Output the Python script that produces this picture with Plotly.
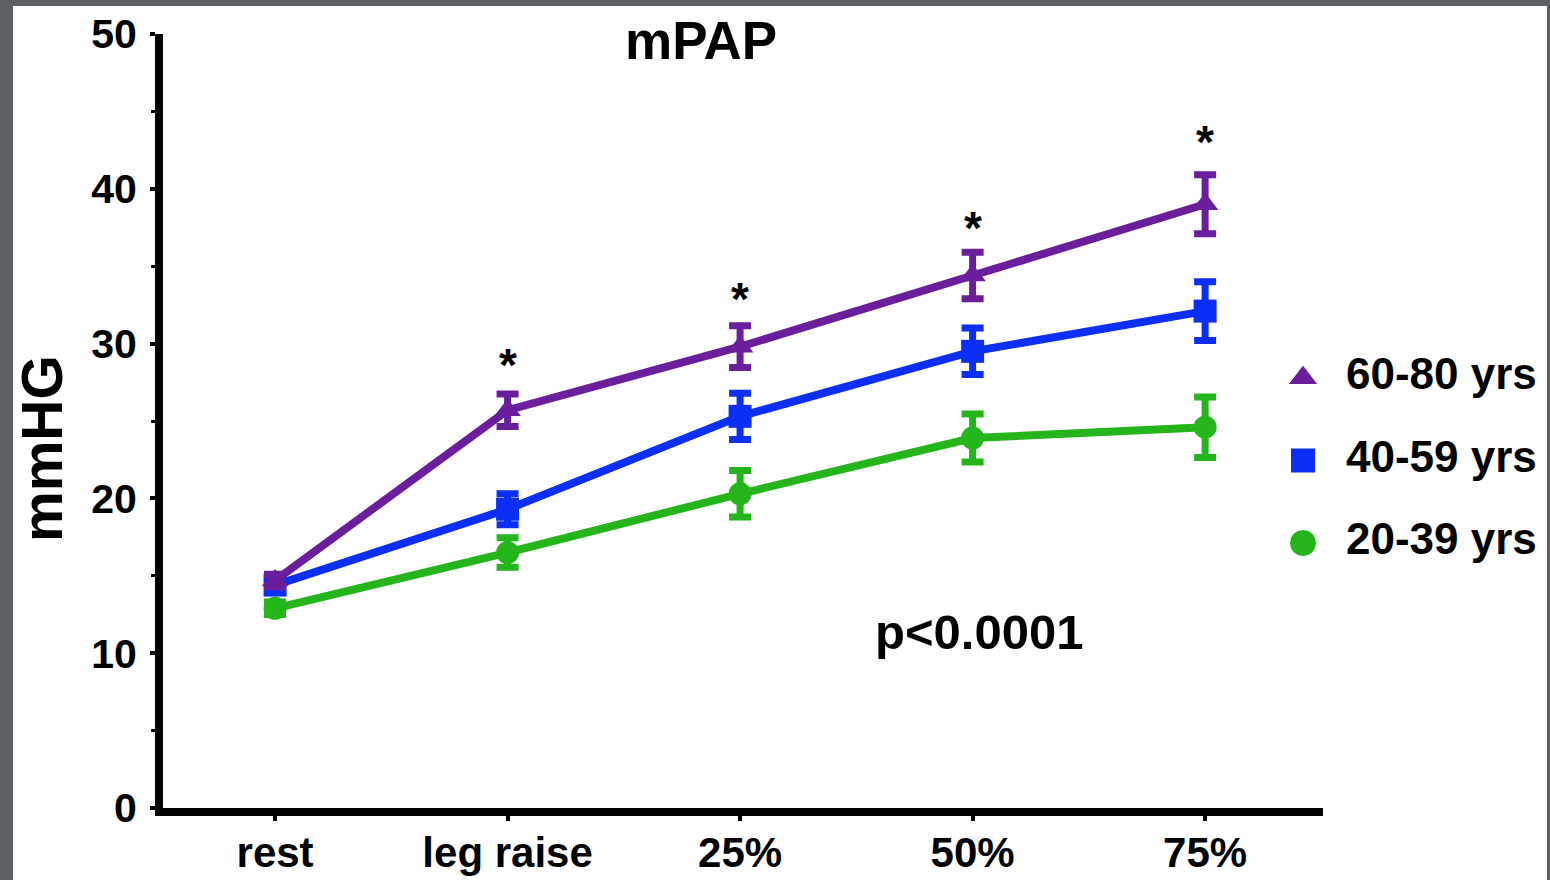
import plotly.graph_objects as go

# ---- data ----
categories = ["rest", "leg raise", "25%", "50%", "75%"]
series_names = ["60-80 yrs", "40-59 yrs", "20-39 yrs"]
old_mean = [14.7, 25.7, 29.8, 34.4, 39.0]
old_err = [0.4, 1.05, 1.35, 1.5, 1.9]
mid_mean = [14.4, 19.3, 25.3, 29.5, 32.1]
mid_err = [0.4, 1.0, 1.5, 1.5, 1.9]
young_mean = [12.9, 16.5, 20.3, 23.9, 24.6]
young_err = [0.4, 0.95, 1.5, 1.55, 1.95]
star_categories = ["leg raise", "25%", "50%", "75%"]
star_y = [28.6, 32.9, 37.5, 43.0]
y_ticks = [0, 10, 20, 30, 40, 50]

purple = "#6a1e9c"
blue = "#0b2ff5"
green = "#24b51b"
FONT = "Liberation Sans, Arial, sans-serif"

# ---- layout geometry (pixels) ----
W, H = 1550, 880
ML, MT, MB, MR = 163, 34, 72, 0
PW = W - ML - MR          # paper width
PH = H - MT - MB          # paper height
PLOT_RIGHT = 1323         # right end of the x axis


def px(xp):
    return (xp - ML) / PW


def py(yp):
    return (H - MB - yp) / PH


fig = go.Figure()

specs = [
    (series_names[0], old_mean, old_err, purple, "triangle-up", 26),
    (series_names[1], mid_mean, mid_err, blue, "square", 25),
    (series_names[2], young_mean, young_err, green, "circle", 27),
]

for name, m, e, col, sym, _ in specs[::-1]:
    fig.add_trace(go.Scatter(
        x=categories, y=m, mode="lines+markers", name=name, showlegend=False,
        line=dict(color=col, width=8),
        marker=dict(color=col, size=23, symbol=sym),
        error_y=dict(type="data", array=e, color=col, thickness=7, width=11),
        xaxis="x", yaxis="y",
    ))

# legend drawn on its own hidden pixel-scaled axes
LEG_MARKER_X, LEG_TEXT_X, LEG_TOP, LEG_STEP = 1303, 1346, 378, 82.5
leg_rows = [LEG_TOP + i * LEG_STEP for i in range(len(specs))]
fig.add_trace(go.Scatter(
    x=[LEG_MARKER_X] * len(specs), y=leg_rows, mode="markers", showlegend=False,
    marker=dict(color=[s[3] for s in specs], symbol=[s[4] for s in specs],
                size=[s[5] for s in specs], opacity=1),
    xaxis="x2", yaxis="y2", hoverinfo="skip", cliponaxis=False,
))
fig.add_trace(go.Scatter(
    x=[LEG_TEXT_X] * len(specs), y=leg_rows, mode="text", showlegend=False,
    text=series_names, textposition="middle right",
    textfont=dict(family=FONT, size=44, color="black", weight="bold"),
    xaxis="x2", yaxis="y2", hoverinfo="skip", cliponaxis=False,
))

# asterisks
for c, yv in zip(star_categories, star_y):
    fig.add_annotation(x=c, y=yv, text="*", showarrow=False, xshift=0,
                       font=dict(family=FONT, size=46, color="black", weight="bold"))

# white panel on dark frame
fig.add_shape(type="rect", xref="paper", yref="paper",
              x0=px(13), x1=px(1547), y0=-0.2, y1=py(6),
              fillcolor="white", line=dict(width=0), layer="below")

fig.add_annotation(xref="paper", yref="paper", x=px(701), y=py(40),
                   xanchor="center", yanchor="middle",
                   text="mPAP", showarrow=False,
                   font=dict(family=FONT, size=53, color="black", weight="bold"))
fig.add_annotation(xref="paper", yref="paper", x=px(979), y=py(632),
                   xanchor="center", yanchor="middle",
                   text="p<0.0001", showarrow=False,
                   font=dict(family=FONT, size=49, color="black", weight="bold"))
fig.add_annotation(xref="paper", yref="paper", x=px(42), y=py(449),
                   xanchor="center", yanchor="middle", textangle=-90,
                   text="mmHG", showarrow=False,
                   font=dict(family=FONT, size=57, color="black", weight="bold"))

fig.update_layout(
    width=W, height=H,
    margin=dict(l=ML, r=MR, t=MT, b=MB, autoexpand=False),
    paper_bgcolor="#5d6064", plot_bgcolor="rgba(0,0,0,0)",
    font=dict(family=FONT, color="black", weight="bold"),
    showlegend=False,
    xaxis=dict(domain=[0, px(PLOT_RIGHT)], range=[-0.482, 4.507],
               showline=True, linewidth=8, linecolor="black",
               showgrid=False, zeroline=False, ticks="outside", ticklen=5, tickwidth=4,
               tickcolor="black", ticklabelstandoff=-4,
               tickfont=dict(family=FONT, size=42, color="black", weight="bold"),
               fixedrange=True),
    yaxis=dict(range=[0, 50], showline=True, linewidth=8, linecolor="black",
               showgrid=False, zeroline=False, ticks="outside", ticklen=5, tickwidth=4,
               tickvals=y_ticks, tickcolor="black",
               minor=dict(dtick=5, ticks="outside", ticklen=4, tickwidth=3, tickcolor="black"),
               tickfont=dict(family=FONT, size=41, color="black", weight="bold"),
               ticklabelstandoff=5, fixedrange=True),
    xaxis2=dict(domain=[0.8, 1.0], range=[ML + 0.8 * PW, W], anchor="y2",
                visible=False, fixedrange=True),
    yaxis2=dict(domain=[0, 1], range=[H - MB, MT], anchor="x2",
                visible=False, fixedrange=True),
)

fig.write_html("out.html")
